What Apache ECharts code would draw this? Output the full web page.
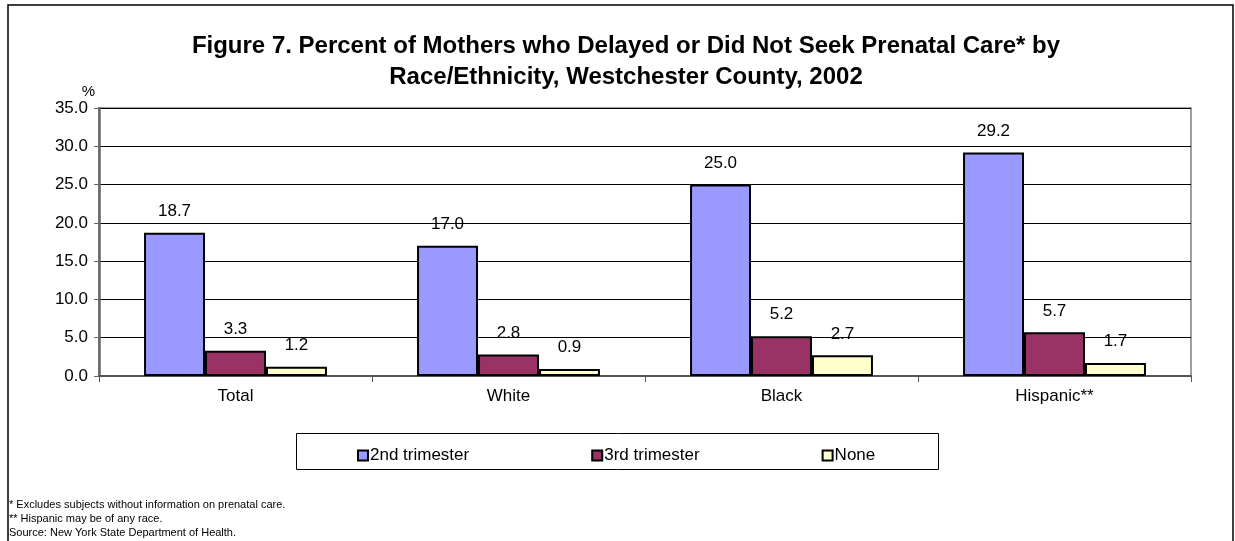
<!DOCTYPE html>
<html>
<head>
<meta charset="utf-8">
<script src="https://cdn.jsdelivr.net/npm/echarts@6/dist/echarts.min.js"></script>
<style>
  html, body { margin: 0; padding: 0; background: #fff; }
  #chart { width: 1235px; height: 541px; }
</style>
</head>
<body>
<div id="chart"></div>
<script>
const categories = ["Total", "White", "Black", "Hispanic**"];
const seriesNames = ["2nd trimester", "3rd trimester", "None"];
const second = [18.7, 17.0, 25.0, 29.2];
const third = [3.3, 2.8, 5.2, 5.7];
const none = [1.2, 0.9, 2.7, 1.7];
const yTicks = [0, 35, 5]; // min, max, step
const colors = ["#9999FF", "#993366", "#FFFFCC"];
const notes = [
    "* Excludes subjects without information on prenatal care.",
    "** Hispanic may be of any race.",
    "Source: New York State Department of Health."
];

const FONT = "Liberation Sans, Arial, sans-serif";

/* ===========================
   Bar series
=========================== */

function makeSeries(name, data, color) {
    return {
        name: name,
        type: "bar",
        data: data,
        barGap: "0%",
        barCategoryGap: "33%",
        itemStyle: {
            color: color,
            borderColor: "#000",
            borderWidth: 2
        },
        label: {
            show: true,
            position: "top",
            distance: 13,
            color: "#000",
            fontFamily: FONT,
            fontSize: 17,
            formatter: p => Number(p.value).toFixed(1)
        }
    };
}

const chart = echarts.init(document.getElementById("chart"));

chart.setOption({
    animation: false,
    textStyle: { fontFamily: FONT },
    title: {
        text: "Figure 7. Percent of Mothers who Delayed or Did Not Seek Prenatal Care* by\nRace/Ethnicity, Westchester County, 2002",
        left: 621,
        textAlign: "center",
        top: 26,
        textStyle: {
            fontFamily: FONT,
            fontWeight: "bold",
            fontSize: 24,
            lineHeight: 31,
            color: "#000"
        }
    },
    legend: {
        left: 352,
        top: 442,
        icon: "rect",
        itemWidth: 10,
        itemHeight: 10,
        itemGap: 122,
        textStyle: {
            fontFamily: FONT,
            fontSize: 17,
            color: "#000",
            padding: [0, 0, 0, -3]
        },
        data: seriesNames
    },
    grid: {
        left: 99,
        right: 44,
        top: 108,
        bottom: 165,
        show: true,
        borderColor: "#808080",
        borderWidth: 1.5
    },
    xAxis: {
        type: "category",
        data: categories,
        axisLine: { lineStyle: { color: "#555", width: 2 } },
        axisTick: {
            show: true,
            length: 6,
            lineStyle: { color: "#555" }
        },
        axisLabel: {
            color: "#000",
            fontSize: 17,
            margin: 12
        }
    },
    yAxis: {
        type: "value",
        min: yTicks[0],
        max: yTicks[1],
        interval: yTicks[2],
        name: "%",
        nameLocation: "end",
        nameGap: 9,
        nameTextStyle: {
            color: "#000",
            fontSize: 15,
            align: "right",
            padding: [0, 4, 0, 0]
        },
        axisLine: { show: true, lineStyle: { color: "#666", width: 2.5 } },
        axisTick: {
            show: true,
            length: 5,
            lineStyle: { color: "#666" }
        },
        axisLabel: {
            color: "#000",
            fontSize: 17,
            margin: 11,
            formatter: v => v.toFixed(1)
        },
        splitLine: {
            lineStyle: { color: "#000", width: 1 }
        }
    },
    series: [
        makeSeries(seriesNames[0], second, colors[0]),
        makeSeries(seriesNames[1], third, colors[1]),
        makeSeries(seriesNames[2], none, colors[2])
    ],
    graphic: [
        {
            type: "rect",
            shape: { x: 8, y: 5, width: 1225, height: 560 },
            style: { fill: "none", stroke: "#000", lineWidth: 1.5 },
            silent: true,
            z: -1
        },
        {
            type: "rect",
            shape: { x: 296.5, y: 433.5, width: 642, height: 36 },
            style: { fill: "none", stroke: "#000", lineWidth: 1 },
            silent: true
        }
    ].concat(notes.map((t, i) => ({
        type: "text",
        left: 9,
        top: 499 + i * 14,
        style: {
            text: t,
            font: "11px " + FONT,
            fill: "#000"
        }
    })))
});
</script>
</body>
</html>
